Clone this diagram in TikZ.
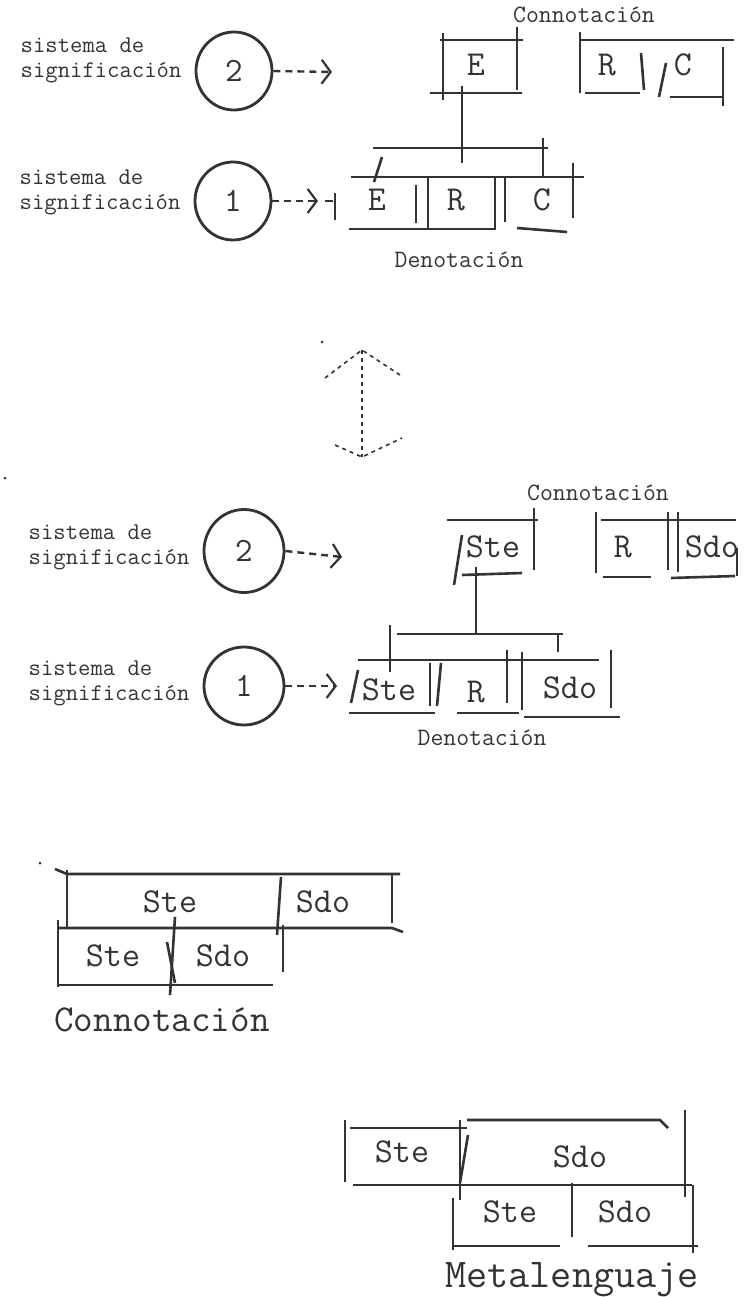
\documentclass[tikz,border=0pt]{standalone}
\usetikzlibrary{arrows.meta,positioning,shapes.geometric}
\definecolor{ink}{HTML}{333333}
\tikzset{
    sysnode/.style={ellipse,draw=ink,line width=2.8pt,minimum width=76pt,minimum height=78pt,inner sep=0pt,text=ink,font=\ttfamily\fontsize{34}{34}\selectfont},
    lbl/.style={align=left,inner sep=0pt,text=ink,font=\ttfamily\fontsize{24}{25}\selectfont},
    cell/.style={inner sep=0pt,text=ink,font=\ttfamily\fontsize{35}{35}\selectfont},
    capt/.style={inner sep=0pt,text=ink,font=\ttfamily\fontsize{25}{25}\selectfont},
    edgeline/.style={draw=ink,line width=2.6pt},
    pre/.style={draw=ink,line width=2.4pt,dash pattern=on 7pt off 5pt,-{Straight Barb[length=9pt,width=24pt,line width=2.2pt]}},
    link/.style={draw=ink,line width=1.6pt,dash pattern=on 4pt off 4pt}
}

\begin{document}
\begin{tikzpicture}[x=1pt,y=-1pt]
    \useasboundingbox (0,0) rectangle (745,1297);

    % E R C
    \node[sysnode] (s2a) at (234,71)  {2};
    \node[lbl]     (l2a) [left=13pt of s2a,yshift=11pt] {sistema de\\significación};
    \node[sysnode] (s1a) at (233,201) {1};
    \node[lbl]     (l1a) [left=13pt of s1a,yshift=9pt]  {sistema de\\significación};
    \coordinate (t2a) at (332,72);
    \coordinate (t1a) at (318,201);
    \draw[pre] (s2a.east) -- (t2a);
    \draw[pre] (s1a.east) -- (t1a);
    \draw[edgeline] (325,201) -- (333,201);

    \node[capt] (cona) at (584,15)  {Connotación};
    \node[capt] (dena) at (459,260) {Denotación};

    \node[cell] (ea2) at (476,65) {E};
    \draw[edgeline] (440,40) -- (523,40);
    \draw[edgeline] (443,33) -- (443,100);
    \draw[edgeline] (517,27) -- (517,90);
    \draw[edgeline] (430,93) -- (522,93);

    \node[cell] (ra2) at (607,65) {R};
    \node[cell] (ca2) at (683,65) {C};
    \draw[edgeline] (579,40) -- (734,40);
    \draw[edgeline] (580,32) -- (580,93);
    \draw[edgeline] (723,47) -- (723,106);
    \draw[edgeline] (585,93) -- (640,93);
    \draw[edgeline] (670,97) -- (722,97);
    \draw[edgeline] (641,53) -- (644,90);
    \draw[edgeline] (666,63) -- (659,97);

    \coordinate (ea2b) at (462,86);
    \coordinate (bka)  at (462,163);
    \draw[edgeline] (ea2b) -- (bka);
    \draw[edgeline] (373,148) -- (548,148);
    \draw[edgeline] (543,138) -- (543,177);
    \draw[edgeline] (382,157) -- (374,182);

    \node[cell] (ea1) at (377,200) {E};
    \node[cell] (ra1) at (456,200) {R};
    \node[cell] (ca1) at (542,200) {C};
    \draw[edgeline] (351,177) -- (584,177);
    \draw[edgeline] (349,229) -- (495,229);
    \draw[edgeline] (517,228) -- (567,232);
    \draw[edgeline] (335,193) -- (335,220);
    \draw[edgeline] (416,185) -- (416,223);
    \draw[edgeline] (428,177) -- (428,230);
    \draw[edgeline] (495,177) -- (495,230);
    \draw[edgeline] (505,178) -- (505,222);
    \draw[edgeline] (573,163) -- (573,218);

    % double arrow
    \fill[ink] (322,342) circle (1.5pt);
    \coordinate (upT) at (362,350);
    \coordinate (dnT) at (362,457);
    \coordinate (upL) at (325,378);
    \coordinate (upR) at (400,375);
    \coordinate (dnL) at (335,445);
    \coordinate (dnR) at (402,438);
    \draw[link] (upT) -- (dnT);
    \draw[link] (upL) -- (upT) -- (upR);
    \draw[link] (dnL) -- (dnT) -- (dnR);

    % Ste R Sdo
    \fill[ink] (5,478) circle (1.5pt);
    \node[sysnode,minimum width=80pt,minimum height=83pt] (s2b) at (244,551) {2};
    \node[lbl] (l2b) [left=13pt of s2b,yshift=4pt] {sistema de\\significación};
    \node[sysnode,minimum width=80pt,minimum height=78pt] (s1b) at (244,686) {1};
    \node[lbl] (l1b) [left=13pt of s1b,yshift=3pt] {sistema de\\significación};
    \coordinate (t2b) at (342,557);
    \coordinate (t1b) at (337,686);
    \draw[pre] (s2b.east) -- (t2b);
    \draw[pre] (s1b.east) -- (t1b);

    \node[capt] (conb) at (598,493) {Connotación};
    \node[capt] (denb) at (482,738) {Denotación};

    \node[cell] (steb2) at (493,547) {Ste};
    \draw[edgeline] (447,520) -- (538,520);
    \draw[edgeline] (534,508) -- (534,570);
    \draw[edgeline] (462,535) -- (454,585);
    \draw[edgeline] (462,575) -- (522,573);

    \node[cell] (rb2)   at (623,547) {R};
    \node[cell] (sdob2) at (712,547) {Sdo};
    \draw[edgeline] (596,512) -- (596,573);
    \draw[edgeline] (601,520) -- (736,520);
    \draw[edgeline] (668,512) -- (668,570);
    \draw[edgeline] (678,512) -- (678,572);
    \draw[edgeline] (603,577) -- (651,577);
    \draw[edgeline] (671,578) -- (735,576);
    \draw[edgeline] (737,548) -- (737,576);

    \coordinate (steb2b) at (476,567);
    \coordinate (bkb)    at (476,634);
    \draw[edgeline] (steb2b) -- (bkb);
    \draw[edgeline] (397,634) -- (563,634);
    \draw[edgeline] (390,625) -- (390,672);
    \draw[edgeline] (558,634) -- (558,652);

    \node[cell] (steb1) at (389,690) {Ste};
    \node[cell] (rb1)   at (476,692) {R};
    \node[cell] (sdob1) at (570,688) {Sdo};
    \draw[edgeline] (358,660) -- (599,660);
    \draw[edgeline] (358,670) -- (351,703);
    \draw[edgeline] (430,663) -- (430,706);
    \draw[edgeline] (441,663) -- (437,706);
    \draw[edgeline] (507,650) -- (507,703);
    \draw[edgeline] (522,652) -- (522,710);
    \draw[edgeline] (611,650) -- (611,708);
    \draw[edgeline] (349,713) -- (435,713);
    \draw[edgeline] (457,713) -- (519,713);
    \draw[edgeline] (524,717) -- (620,717);

    % Connotacion
    \fill[ink] (40,863) circle (1.5pt);
    \node[cell] (stec2) at (170,902) {Ste};
    \node[cell] (sdoc2) at (323,902) {Sdo};
    \node[cell] (stec1) at (113,956) {Ste};
    \node[cell] (sdoc1) at (223,956) {Sdo};
    \draw[edgeline] (55,869) -- (67,874) -- (400,874);
    \draw[edgeline] (67,870) -- (67,927);
    \draw[edgeline] (392,875) -- (392,923);
    \draw[edgeline] (281,877) -- (277,935);
    \draw[edgeline] (58,928) -- (392,928) -- (403,932);
    \draw[edgeline] (58,920) -- (58,987);
    \draw[edgeline] (283,925) -- (283,972);
    \draw[edgeline] (57,985) -- (273,985);
    \draw[edgeline] (175,917) -- (170,995);
    \draw[edgeline] (167,942) -- (175,983);
    \node[cell,font=\ttfamily\fontsize{38}{38}\selectfont] (conc) at (162,1020) {Connotación};

    % Metalenguaje
    \node[cell] (sted2) at (402,1152) {Ste};
    \node[cell] (sdod2) at (580,1157) {Sdo};
    \node[cell] (sted1) at (510,1212) {Ste};
    \node[cell] (sdod1) at (625,1212) {Sdo};
    \draw[edgeline] (345,1120) -- (345,1182);
    \draw[edgeline] (350,1128) -- (467,1128);
    \draw[edgeline] (467,1120) -- (660,1120) -- (668,1128);
    \draw[edgeline] (460,1120) -- (460,1200);
    \draw[edgeline] (468,1135) -- (460,1183);
    \draw[edgeline] (685,1110) -- (685,1197);
    \draw[edgeline] (353,1185) -- (692,1185);
    \draw[edgeline] (453,1198) -- (453,1250);
    \draw[edgeline] (572,1183) -- (572,1237);
    \draw[edgeline] (693,1185) -- (693,1253);
    \draw[edgeline] (453,1246) -- (560,1246);
    \draw[edgeline] (588,1246) -- (698,1246);
    \node[cell,font=\ttfamily\fontsize{41}{41}\selectfont] (metd) at (572,1280) {Metalenguaje};
\end{tikzpicture}
\end{document}
